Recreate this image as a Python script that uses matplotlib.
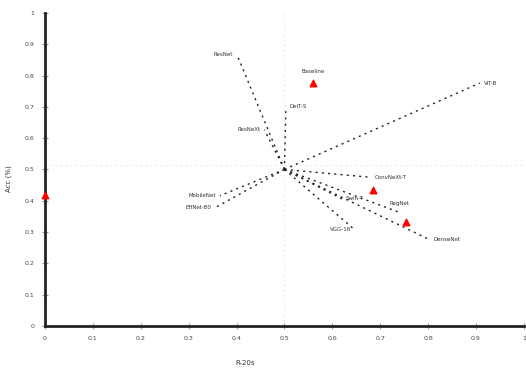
import numpy as np
import matplotlib
matplotlib.use('Agg')
import matplotlib.pyplot as plt

# Centre point that every line starts from
center_x = 0.5
center_y = 0.5

# Line end points and their labels
line_names = ['ResNet', 'ViT-B', 'MobileNet', 'EffNet-B0', 'DenseNet', 'VGG-16', 'ConvNeXt-T',
              'Swin-T', 'RegNet', 'DeiT-S', 'ResNeXt']
line_end_x = [0.401, 0.908, 0.365, 0.355, 0.804, 0.647, 0.680, 0.620, 0.740, 0.503, 0.458]
line_end_y = [0.866, 0.776, 0.416, 0.378, 0.275, 0.307, 0.475, 0.406, 0.363, 0.700, 0.627]
label_side = ['left', 'right', 'left', 'left', 'right', 'left', 'right', 'right', 'center', 'right', 'left']

# Reference points (red triangles)
point_names = ['Baseline', '', '', '']
point_x = [0.559, 0.685, 0.754, 0.0]
point_y = [0.776, 0.434, 0.332, 0.418]

x_ticks = np.arange(0, 1.01, 0.1)
x_tick_labels = ['0', '0.1', '0.2', '0.3', '0.4', '0.5', '0.6', '0.7', '0.8', '0.9', '1']
y_ticks = np.arange(0, 1.01, 0.1)
y_tick_labels = ['0', '0.1', '0.2', '0.3', '0.4', '0.5', '0.6', '0.7', '0.8', '0.9', '1']

fig = plt.figure(figsize=(5.26, 3.69), dpi=100)
ax = fig.add_axes([0.0856, 0.1165, 0.9104, 0.8485])

# Dashed guide lines through the centre
ax.axhline(0.514, color='#dddddd', linestyle=(0, (2, 4)), linewidth=0.6, zorder=0)
ax.axvline(center_x, color='#dddddd', linestyle=(0, (2, 4)), linewidth=0.6, zorder=0)

# Draw each line from the centre
for name, ex, ey, side in zip(line_names, line_end_x, line_end_y, label_side):
    ax.plot([center_x, ex], [center_y, ey], color='#222222', linestyle=(0, (1.5, 3)),
            linewidth=1.0, zorder=2)
    if side == 'left':
        ax.text(ex - 0.008, ey, name, fontsize=4, ha='right', va='center', color='#333333')
    elif side == 'right':
        ax.text(ex + 0.008, ey, name, fontsize=4, ha='left', va='center', color='#333333')
    else:
        ax.text(ex, ey + 0.02, name, fontsize=4, ha='center', va='bottom', color='#333333')

# Red triangle markers
ax.scatter(point_x, point_y, marker='^', color='red', s=22, zorder=3, clip_on=False)
for name, px, py in zip(point_names, point_x, point_y):
    if name:
        ax.text(px, py + 0.03, name, fontsize=4, ha='center', va='bottom', color='#333333')

ax.set_xlim(0, 1)
ax.set_ylim(0, 1)
ax.set_xticks(x_ticks)
ax.set_xticklabels(x_tick_labels)
ax.set_yticks(y_ticks)
ax.set_yticklabels(y_tick_labels)
ax.tick_params(axis='both', labelsize=4.5, direction='inout', length=5, width=0.8,
               color='#999999', labelcolor='#444444', pad=5)

ax.spines['top'].set_visible(False)
ax.spines['right'].set_visible(False)
ax.spines['left'].set_linewidth(2)
ax.spines['bottom'].set_linewidth(2)
ax.spines['left'].set_color('#222222')
ax.spines['bottom'].set_color('#222222')

ax.set_xlabel('R-20s', fontsize=5, color='#333333')
ax.set_ylabel('Acc (%)', fontsize=5, color='#333333')
ax.xaxis.set_label_coords(0.418, -0.11)
ax.yaxis.set_label_coords(-0.07, 0.47)

plt.savefig('out.png', dpi=100)
